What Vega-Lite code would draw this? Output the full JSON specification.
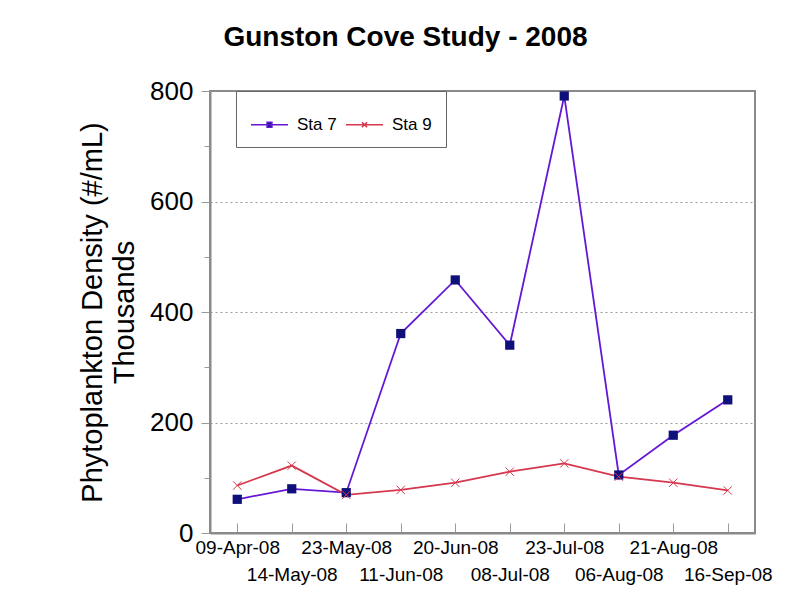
{
  "$schema": "https://vega.github.io/schema/vega-lite/v6.json",
  "width": 545,
  "height": 442,
  "autosize": {"type": "none"},
  "padding": {"left": 210, "top": 91, "right": 41, "bottom": 66},
  "background": "white",
  "title": {
    "text": "Gunston Cove Study - 2008",
    "font": "Liberation Sans",
    "fontSize": 28,
    "fontWeight": "bold",
    "color": "black",
    "anchor": "middle",
    "frame": "group",
    "dx": -77,
    "offset": 26
  },
  "config": {
    "view": {"stroke": "#8a8a8a", "strokeWidth": 2},
    "font": "Liberation Sans"
  },
  "data": {
    "values": [
      {"date": "09-Apr-08", "station": "Sta 7", "value": 61},
      {"date": "14-May-08", "station": "Sta 7", "value": 80},
      {"date": "23-May-08", "station": "Sta 7", "value": 73},
      {"date": "11-Jun-08", "station": "Sta 7", "value": 361},
      {"date": "20-Jun-08", "station": "Sta 7", "value": 458},
      {"date": "08-Jul-08", "station": "Sta 7", "value": 340},
      {"date": "23-Jul-08", "station": "Sta 7", "value": 791},
      {"date": "06-Aug-08", "station": "Sta 7", "value": 105},
      {"date": "21-Aug-08", "station": "Sta 7", "value": 177},
      {"date": "16-Sep-08", "station": "Sta 7", "value": 241},
      {"date": "09-Apr-08", "station": "Sta 9", "value": 86},
      {"date": "14-May-08", "station": "Sta 9", "value": 122},
      {"date": "23-May-08", "station": "Sta 9", "value": 69},
      {"date": "11-Jun-08", "station": "Sta 9", "value": 78},
      {"date": "20-Jun-08", "station": "Sta 9", "value": 91},
      {"date": "08-Jul-08", "station": "Sta 9", "value": 111},
      {"date": "23-Jul-08", "station": "Sta 9", "value": 126},
      {"date": "06-Aug-08", "station": "Sta 9", "value": 102},
      {"date": "21-Aug-08", "station": "Sta 9", "value": 91},
      {"date": "16-Sep-08", "station": "Sta 9", "value": 77}
    ]
  },
  "encoding": {
    "x": {
      "field": "date",
      "type": "nominal",
      "sort": null,
      "scale": {"type": "point", "padding": 0.5},
      "axis": {
        "title": null,
        "labelAngle": 0,
        "labelFont": "Liberation Sans",
        "labelFontSize": 19,
        "labelColor": "black",
        "labelOverlap": false,
        "labelBaseline": "top",
        "labelPadding": {"condition": {"test": "indexof(['14-May-08','11-Jun-08','08-Jul-08','06-Aug-08','16-Sep-08'], datum.value) >= 0", "value": 42}, "value": 15},
        "tickSize": -10,
        "tickColor": "#999999",
        "tickWidth": 1,
        "domainColor": "#8a8a8a",
        "domainWidth": 2,
        "grid": false
      }
    },
    "y": {
      "field": "value",
      "type": "quantitative",
      "scale": {"domain": [0, 800], "nice": false},
      "axis": {
        "values": [0, 100, 200, 300, 400, 500, 600, 700, 800],
        "labelExpr": "datum.value % 200 == 0 ? datum.label : ''",
        "title": ["Phytoplankton Density (#/mL)", "Thousands"],
        "titleFont": "Liberation Sans",
        "titleFontSize": 29,
        "titleFontWeight": "normal",
        "titleColor": "black",
        "titleLineHeight": 32,
        "titlePadding": 10,
        "labelFont": "Liberation Sans",
        "labelFontSize": 26,
        "labelColor": "black",
        "labelPadding": 8,
        "tickSize": {"condition": {"test": "datum.value % 200 == 0", "value": 9}, "value": 6},
        "tickColor": "#999999",
        "domainColor": "#8a8a8a",
        "domainWidth": 2,
        "grid": true,
        "gridColor": "#999999",
        "gridDash": [2, 3],
        "gridWidth": 1,
        "gridOpacity": {"condition": {"test": "datum.value % 200 == 0 && datum.value > 0 && datum.value < 800", "value": 1}, "value": 0}
      }
    }
  },
  "layer": [
    {
      "mark": {"type": "line", "strokeWidth": 1.8},
      "encoding": {
        "color": {
          "field": "station",
          "type": "nominal",
          "scale": {"domain": ["Sta 7", "Sta 9"], "range": ["#6418d6", "#d6384e"]},
          "legend": {
            "orient": "none",
            "legendX": 26,
            "legendY": 0,
            "direction": "horizontal",
            "title": null,
            "strokeColor": "#666666",
            "fillColor": "white",
            "padding": 14,
            "labelFont": "Liberation Sans",
            "labelFontSize": 17,
            "labelColor": "black",
            "labelOffset": 8,
            "columnPadding": 6,
            "symbolSize": 1369,
            "symbolStrokeWidth": 1.5,
            "encode": {
              "symbols": {
                "update": {
                  "shape": {"signal": "datum.value === 'Sta 7' ? 'M-1,0H1M-0.13,-0.13H0.13V0.13H-0.13Z' : 'M-1,0H1M-0.14,-0.14L0.14,0.14M-0.14,0.14L0.14,-0.14'"},
                  "fill": {"signal": "datum.value === 'Sta 7' ? '#10107a' : 'transparent'"},
                  "strokeWidth": {"value": 1.5}
                }
              }
            }
          }
        }
      }
    },
    {
      "transform": [{"filter": "datum.station === 'Sta 7'"}],
      "mark": {"type": "point", "shape": "square", "filled": true, "color": "#10107a", "size": 85, "opacity": 1}
    },
    {
      "transform": [{"filter": "datum.station === 'Sta 9'"}],
      "mark": {"type": "point", "shape": "M-1,-1L1,1M-1,1L1,-1", "filled": false, "color": "#d6384e", "size": 70, "strokeWidth": 1, "opacity": 1}
    }
  ]
}
